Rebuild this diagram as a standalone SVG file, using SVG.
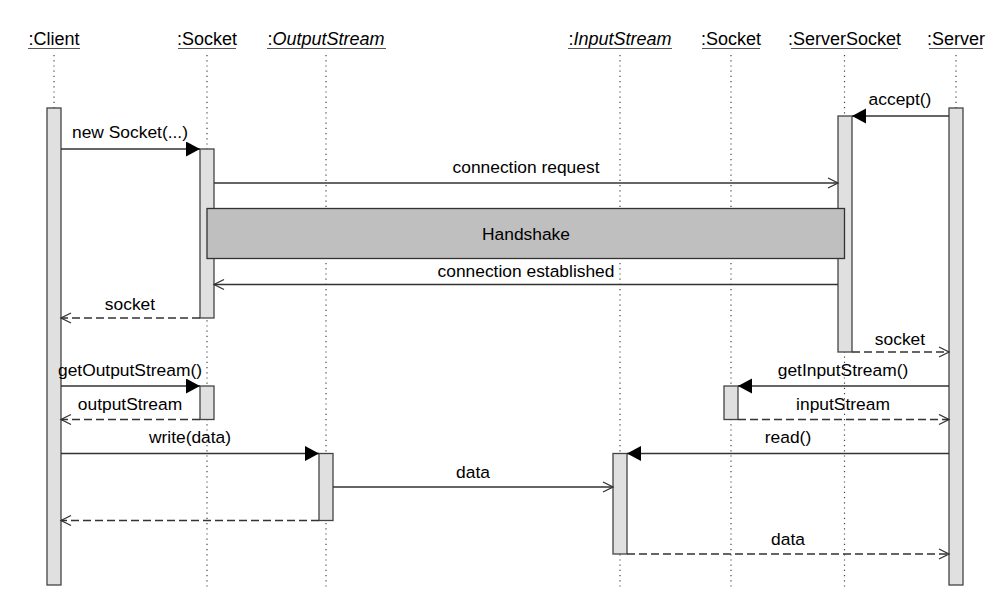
<svg xmlns="http://www.w3.org/2000/svg" width="1003" height="599" viewBox="0 0 1003 599">
<style>
text{font-family:"Liberation Sans",Arial,sans-serif;font-size:17.4px;fill:#000}
.hd{text-anchor:middle;font-size:18px}
.ul{stroke:#555;stroke-width:1.2}
.life{stroke:#444;stroke-width:1.2;stroke-dasharray:1.2 4;fill:none}
.act{fill:#e0e0e0;stroke:#444;stroke-width:1.3}
.msg{stroke:#333;stroke-width:1.3;fill:none}
.sync{marker-end:url(#filled)}
.open{marker-end:url(#openA)}
.ret{stroke-dasharray:8 4;marker-end:url(#openA)}
.lbl{text-anchor:middle}
</style>
<defs>
<marker id="filled" markerUnits="userSpaceOnUse" markerWidth="16" markerHeight="16" refX="14" refY="7.5" orient="auto">
<path d="M0,0 L14,7.5 L0,15 z" fill="#000"/>
</marker>
<marker id="openA" markerUnits="userSpaceOnUse" markerWidth="14" markerHeight="14" refX="11" refY="6" orient="auto">
<path d="M1,1 L11,6 L1,11" fill="none" stroke="#333" stroke-width="1.3"/>
</marker>
</defs>
<rect width="1003" height="599" fill="#fff"/>

<g id="client">
<text class="hd" x="54" y="45">:Client</text>
<line class="ul" x1="28" y1="48.5" x2="80" y2="48.5"/>
<line class="life" x1="54" y1="55" x2="54" y2="585"/>
<rect class="act" x="47" y="108" width="14" height="477"/>
</g>

<g id="socket">
<text class="hd" x="207" y="45">:Socket</text>
<line class="ul" x1="178" y1="48.5" x2="236" y2="48.5"/>
<line class="life" x1="207" y1="55" x2="207" y2="587"/>
<rect class="act" x="200" y="149" width="14" height="169"/>
<rect class="act" x="200" y="386" width="14" height="33.5"/>
</g>

<g id="outputstream">
<text class="hd" x="326" y="45">:<tspan font-style="italic">OutputStream</tspan></text>
<line class="ul" x1="267" y1="48.5" x2="386" y2="48.5"/>
<line class="life" x1="326" y1="55" x2="326" y2="587"/>
<rect class="act" x="319" y="453.5" width="14" height="67"/>
</g>

<g id="inputstream">
<text class="hd" x="620" y="45">:<tspan font-style="italic">InputStream</tspan></text>
<line class="ul" x1="568" y1="48.5" x2="672" y2="48.5"/>
<line class="life" x1="620" y1="55" x2="620" y2="587"/>
<rect class="act" x="613" y="453.5" width="14" height="100.5"/>
</g>

<g id="socket2">
<text class="hd" x="731" y="45">:Socket</text>
<line class="ul" x1="702" y1="48.5" x2="760" y2="48.5"/>
<line class="life" x1="731" y1="55" x2="731" y2="587"/>
<rect class="act" x="724" y="386" width="14" height="33.5"/>
</g>

<g id="serversocket">
<text class="hd" x="844.5" y="45">:ServerSocket</text>
<line class="ul" x1="791" y1="48.5" x2="898" y2="48.5"/>
<line class="life" x1="844.5" y1="55" x2="844.5" y2="587"/>
<rect class="act" x="838" y="116" width="14" height="236"/>
</g>

<g id="server">
<text class="hd" x="956" y="45">:Server</text>
<line class="ul" x1="929" y1="48.5" x2="983" y2="48.5"/>
<line class="life" x1="956" y1="55" x2="956" y2="108"/>
<rect class="act" x="949" y="108" width="14" height="477"/>
</g>

<g id="handshake">
<rect x="207" y="208.5" width="637.5" height="50" fill="#bfbfbf" stroke="#333" stroke-width="1.3"/>
<text class="lbl" x="526" y="240">Handshake</text>
</g>

<g id="connectors">
<line class="msg sync" x1="949" y1="116" x2="852" y2="116"/>
<text class="lbl" x="900" y="105">accept()</text>

<line class="msg sync" x1="61" y1="149" x2="200" y2="149"/>
<text class="lbl" x="130" y="138">new Socket(...)</text>

<line class="msg open" x1="214" y1="183" x2="838" y2="183"/>
<text class="lbl" x="526" y="173">connection request</text>

<line class="msg open" x1="838" y1="284.5" x2="214" y2="284.5"/>
<text class="lbl" x="526" y="277">connection established</text>

<line class="msg ret" x1="200" y1="318" x2="61" y2="318"/>
<text class="lbl" x="130" y="310">socket</text>

<line class="msg ret" x1="852" y1="352" x2="949" y2="352"/>
<text class="lbl" x="900" y="345">socket</text>

<line class="msg sync" x1="61" y1="386" x2="200" y2="386"/>
<text class="lbl" x="130" y="376">getOutputStream()</text>

<line class="msg ret" x1="200" y1="419.5" x2="61" y2="419.5"/>
<text class="lbl" x="130" y="410">outputStream</text>

<line class="msg sync" x1="949" y1="386" x2="738" y2="386"/>
<text class="lbl" x="843" y="376">getInputStream()</text>

<line class="msg ret" x1="738" y1="419.5" x2="949" y2="419.5"/>
<text class="lbl" x="843" y="410">inputStream</text>

<line class="msg sync" x1="61" y1="453.5" x2="319" y2="453.5"/>
<text class="lbl" x="190" y="443">write(data)</text>

<line class="msg sync" x1="949" y1="453.5" x2="627" y2="453.5"/>
<text class="lbl" x="788" y="443">read()</text>

<line class="msg open" x1="333" y1="487" x2="613" y2="487"/>
<text class="lbl" x="473" y="478">data</text>

<line class="msg ret" x1="319" y1="520.5" x2="61" y2="520.5"/>

<line class="msg ret" x1="627" y1="554" x2="949" y2="554"/>
<text class="lbl" x="788" y="545">data</text>
</g>
</svg>
